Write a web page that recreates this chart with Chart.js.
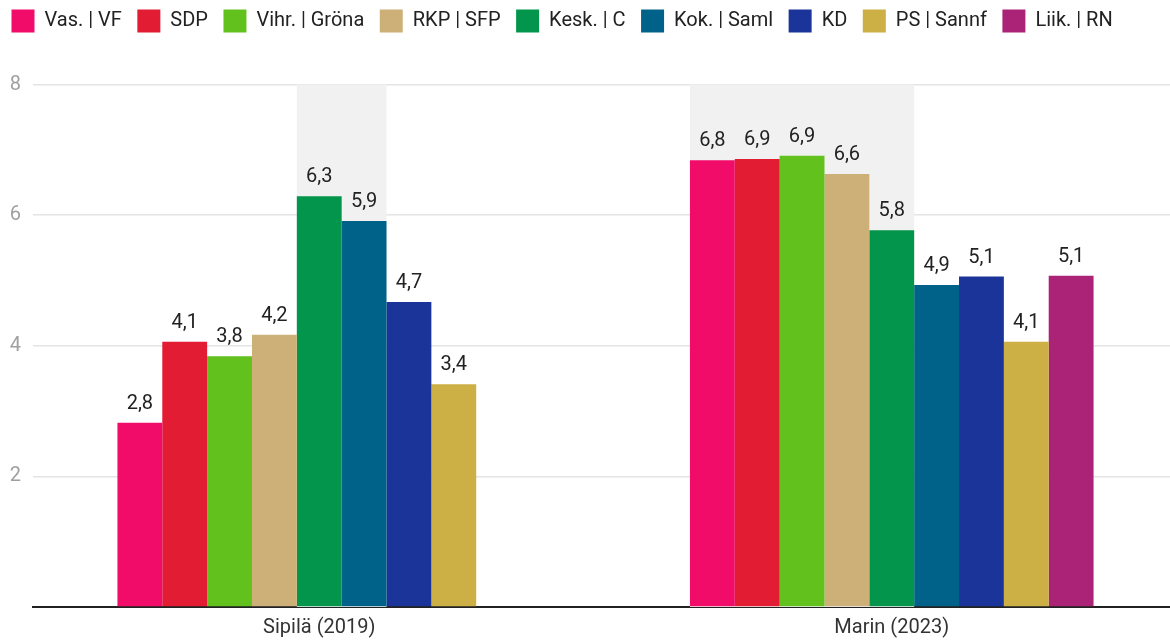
<!DOCTYPE html>
<html>
<head>
<meta charset="utf-8">
<script src="https://cdn.jsdelivr.net/npm/chart.js@4/dist/chart.umd.min.js"></script>
<style>
  html, body { margin: 0; padding: 0; background: #fff; overflow: hidden; }
  #wrap { width: 1178px; height: 640px; }
</style>
</head>
<body>
<div id="wrap"><canvas id="chart" width="1178" height="640"></canvas></div>
<script>
// ---- data ----
const categories = ["Sipilä (2019)", "Marin (2023)"];
const parties = ["Vas. | VF", "SDP", "Vihr. | Gröna", "RKP | SFP", "Kesk. | C", "Kok. | Saml", "KD", "PS | Sannf", "Liik. | RN"];
const partyColors = ["#f00c68", "#e11c33", "#62c11c", "#cdb077", "#03954b", "#006289", "#1b349a", "#cdb045", "#ab2377"];
const sipilaValues = [2.82, 4.06, 3.84, 4.17, 6.29, 5.91, 4.67, 3.41, null];
const marinValues  = [6.84, 6.86, 6.91, 6.63, 5.77, 4.93, 5.06, 4.06, 5.07];
// government parties per category (shaded band behind)
const sipilaGov = ["Kesk. | C", "Kok. | Saml"];
const marinGov  = ["Vas. | VF", "SDP", "Vihr. | Gröna", "RKP | SFP", "Kesk. | C"];
const yTicks = [2, 4, 6, 8];

const FONT = "Roboto, 'Noto Sans', sans-serif";
const govByCategory = [sipilaGov, marinGov];

const datasets = parties.map((p, i) => ({
  label: p,
  data: [sipilaValues[i], marinValues[i]],
  backgroundColor: partyColors[i],
  borderWidth: 0
}));

// light band behind government parties
const govBand = {
  id: "govBand",
  beforeDatasetsDraw(chart) {
    const ctx = chart.ctx;
    const area = chart.chartArea;
    ctx.save();
    ctx.fillStyle = "#f1f1f1";
    govByCategory.forEach((gov, ci) => {
      let x0 = Infinity, x1 = -Infinity;
      chart.data.datasets.forEach((ds, di) => {
        if (!gov.includes(ds.label)) return;
        const el = chart.getDatasetMeta(di).data[ci];
        if (!el) return;
        x0 = Math.min(x0, el.x - el.width / 2);
        x1 = Math.max(x1, el.x + el.width / 2);
      });
      if (x0 < x1) ctx.fillRect(x0, area.top, x1 - x0, area.bottom - area.top);
    });
    ctx.restore();
  }
};

// value labels over bars
const valueLabels = {
  id: "valueLabels",
  afterDatasetsDraw(chart) {
    const ctx = chart.ctx;
    ctx.save();
    ctx.font = "20px " + FONT;
    ctx.fillStyle = "#222";
    ctx.textAlign = "center";
    ctx.textBaseline = "bottom";
    chart.data.datasets.forEach((ds, di) => {
      chart.getDatasetMeta(di).data.forEach((el, i) => {
        const v = ds.data[i];
        if (v == null) return;
        ctx.fillText(v.toFixed(1).replace(".", ","), el.x, el.y - 9);
      });
    });
    ctx.restore();
  }
};

// extra space under the legend
const legendGap = {
  id: "legendGap",
  beforeInit(chart) {
    const fit = chart.legend.fit;
    chart.legend.fit = function () {
      fit.bind(chart.legend)();
      this.height += 42;
    };
  }
};

new Chart(document.getElementById("chart"), {
  type: "bar",
  data: { labels: categories, datasets: datasets },
  options: {
    responsive: false,
    animation: false,
    devicePixelRatio: 1,
    layout: { padding: { left: -4, right: 0, top: -6, bottom: -9 } },
    datasets: { bar: { categoryPercentage: 0.705, barPercentage: 1.0 } },
    plugins: {
      tooltip: { enabled: false },
      legend: {
        position: "top",
        align: "start",
        labels: {
          boxWidth: 23,
          boxHeight: 23,
          padding: 15.5,
          color: "#222",
          font: { family: FONT, size: 20 }
        }
      }
    },
    scales: {
      x: {
        grid: { display: false, drawTicks: false },
        border: { display: true, color: "#222", width: 2 },
        ticks: { color: "#333", padding: 9, font: { family: FONT, size: 20 } }
      },
      y: {
        min: 0,
        max: 8,
        afterBuildTicks(axis) {
          axis.ticks = [0].concat(yTicks).map(v => ({ value: v }));
        },
        afterFit(axis) { axis.width = 37; },
        grid: { color: "#e4e4e4", lineWidth: 1.5, drawTicks: false },
        border: { display: false },
        ticks: {
          color: "#a0a0a0",
          padding: 12,
          font: { family: FONT, size: 20 },
          callback: v => (v === 0 ? "" : v)
        }
      }
    }
  },
  plugins: [govBand, valueLabels, legendGap]
});
</script>
</body>
</html>
